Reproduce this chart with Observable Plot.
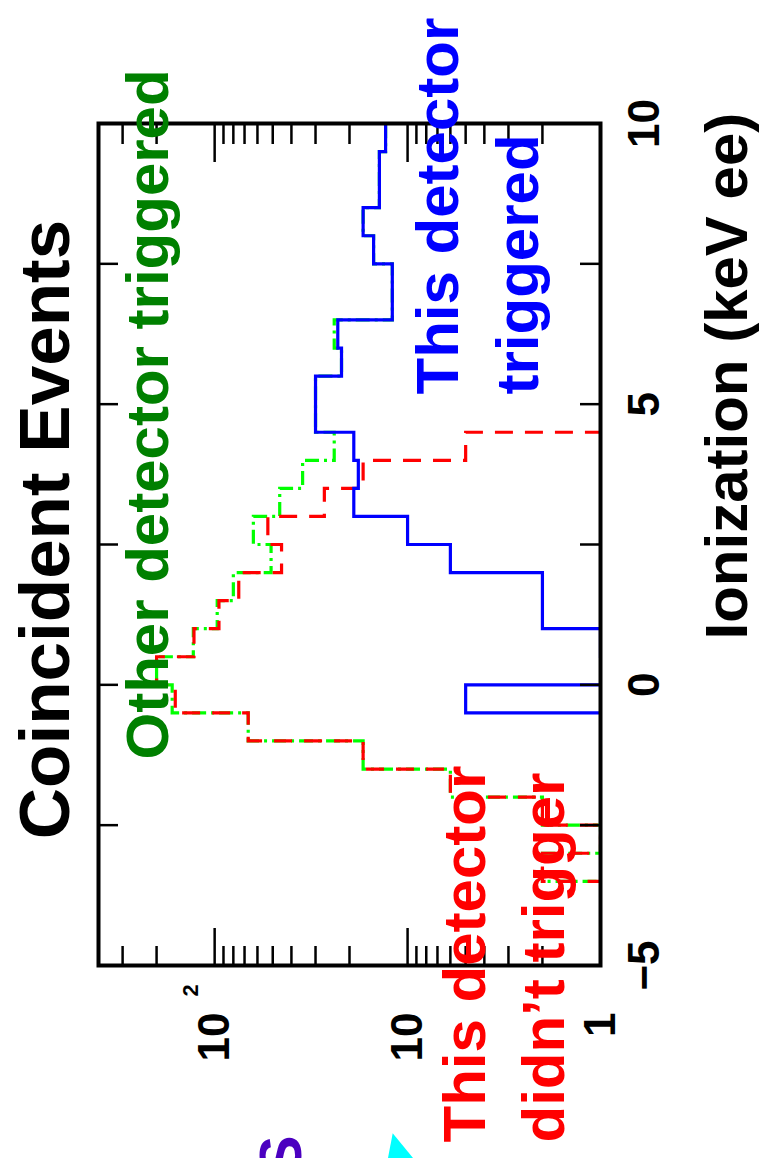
<!DOCTYPE html>
<html>
<head>
<meta charset="utf-8">
<script src="https://cdn.jsdelivr.net/npm/d3@7"></script>
<script src="https://cdn.jsdelivr.net/npm/@observablehq/plot@0.6"></script>
<style>
  html, body { margin: 0; padding: 0; background: #fff; overflow: hidden; width: 763px; height: 1158px; }
  #wrap { position: absolute; left: 0; top: 0; width: 1158px; height: 763px;
          transform-origin: 0 0; transform: translateY(1158px) rotate(-90deg); }
</style>
</head>
<body>
<div id="wrap"></div>
<script>
// ---- data (bins of 0.5 keVee, lower edges) ----
const binStart = [-5,-4.5,-4,-3.5,-3,-2.5,-2,-1.5,-1,-0.5,0,0.5,1,1.5,2,2.5,3,3.5,4,4.5,5,5.5,6,6.5,7,7.5,8,8.5,9,9.5];
const binWidth = 0.5;
const otherTriggered   = [0,0,0,2,1,2,6,17,67,166,200,129,97,80,51,63,46,35,24,30,30,22,24,12,12,15,17,14,14,13];
const thisNotTriggered = [0,0,0,2,1,2,6,17,67,160,200,128,95,75,45,53,27,17,5,0,0,0,0,0,0,0,0,0,0,0];
const thisTriggered    = [0,0,0,0,0,0,0,0,0,5,0,1,2,2,6,10,19,18,19,30,30,22,23,12,12,15,17,14,14,13];

const xTickValues = [-5, -2.5, 0, 2.5, 5, 7.5, 10];
const xTickLabels = [{value: -5, label: "\u22125"}, {value: 0, label: "0"}, {value: 5, label: "5"}, {value: 10, label: "10"}];
const yMajorTicks = [10, 100];
const yMinorTicks = [2,3,4,5,6,7,8,9,20,30,40,50,60,70,80,90,200,300];
const yTickLabels = [{value: 1, label: "1"}, {value: 10, label: "10"}, {value: 100, label: "10"}];
const yExponents  = [{value: 100, label: "2"}];

const titleText = "Coincident Events";
const xAxisTitle = "Ionization (keV ee)";
const labelOther = "Other detector triggered";
const labelTrig = "This detector\ntriggered";
const labelNoTrig = "This detector\ndidn\u2019t trigger";

// ---- build step points; empty bins fall below the log axis and are clipped ----
const FLOOR = 0.3;
function steps(vals) {
  const pts = vals.map((v, i) => ({x: binStart[i], y: v > 0 ? v : FLOOR}));
  pts.push({x: binStart[vals.length - 1] + binWidth, y: pts[pts.length - 1].y});
  return pts;
}

const W = 1158, H = 763;
const mL = 192, mR = 124, mT = 98, mB = 163;
const pw = W - mL - mR, ph = H - mT - mB;
const font = "'Liberation Sans', Arial, Helvetica, sans-serif";
const lineOpts = {x: "x", y: "y", curve: "step-after", strokeWidth: 3.2, strokeLinecap: "butt", strokeLinejoin: "miter", strokeMiterlimit: 4, clip: true};

const chart = Plot.plot({
  width: W, height: H,
  marginLeft: mL, marginRight: mR, marginTop: mT, marginBottom: mB,
  x: {domain: [-5, 10], axis: null},
  y: {type: "log", domain: [1, 400], axis: null},
  style: {fontFamily: font, fontWeight: "bold", background: "white", color: "black"},
  marks: [
    Plot.line(steps(otherTriggered), {...lineOpts, stroke: "#00ff00", strokeDasharray: "14,5,3,5"}),
    Plot.line(steps(thisNotTriggered), {...lineOpts, stroke: "#ff0000", strokeDasharray: "18,12"}),
    Plot.line(steps(thisTriggered), {...lineOpts, stroke: "#0000ff"}),
    // x ticks, inward on both edges
    Plot.ruleX(xTickValues, {x: d => d, insetTop: ph - 20, stroke: "black", strokeWidth: 2.5}),
    Plot.ruleX(xTickValues, {x: d => d, insetBottom: ph - 20, stroke: "black", strokeWidth: 2.5}),
    // y ticks (log), inward on both edges
    Plot.ruleY(yMajorTicks, {y: d => d, insetRight: pw - 38, stroke: "black", strokeWidth: 2.5}),
    Plot.ruleY(yMinorTicks, {y: d => d, insetRight: pw - 20, stroke: "black", strokeWidth: 2.5}),
    Plot.ruleY(yMajorTicks, {y: d => d, insetLeft: pw - 38, stroke: "black", strokeWidth: 2.5}),
    Plot.ruleY(yMinorTicks, {y: d => d, insetLeft: pw - 20, stroke: "black", strokeWidth: 2.5}),
    Plot.frame({stroke: "black", strokeWidth: 4}),
    // tick labels
    Plot.text(xTickLabels, {x: "value", text: "label", frameAnchor: "bottom", dy: 58, lineAnchor: "bottom", textAnchor: "middle", fontSize: 44}),
    Plot.text(yTickLabels, {y: "value", text: "label", frameAnchor: "left", dx: -47, textAnchor: "end", lineAnchor: "middle", fontSize: 44}),
    Plot.text(yExponents, {y: "value", text: "label", frameAnchor: "left", dx: -31, dy: -24, textAnchor: "start", lineAnchor: "middle", fontSize: 22}),
    // titles
    Plot.text([titleText], {frameAnchor: "top-left", dx: 436, dy: -30, textAnchor: "middle", lineAnchor: "bottom", fontSize: 71}),
    Plot.text([xAxisTitle], {frameAnchor: "top-left", dx: 326, dy: 648, textAnchor: "start", lineAnchor: "bottom", fontSize: 60}),
    // annotations
    Plot.text([labelOther], {frameAnchor: "top-left", dx: 206, dy: 69, textAnchor: "start", lineAnchor: "bottom", fontSize: 60, fill: "#008000"}),
    Plot.text([labelTrig], {frameAnchor: "top-left", dx: 571, dy: 439, textAnchor: "start", lineAnchor: "bottom", lineHeight: 1.333, fontSize: 60, fill: "#0000ff"}),
    Plot.text([labelNoTrig], {frameAnchor: "top-left", dx: -177, dy: 465, textAnchor: "start", lineAnchor: "bottom", lineHeight: 1.31, fontSize: 60, fill: "#ff0000"}),
    Plot.text(["S"], {frameAnchor: "top-left", dx: -170, dy: 202, textAnchor: "end", lineAnchor: "bottom", fontSize: 60, fill: "#4b00c0"})
  ]
});

// cropped cyan arrow head at the slide edge
d3.select(chart).append("polygon")
  .attr("points", "24.7,392.7 -20,384.2 -20,429.5")
  .attr("fill", "#00ffff");

document.getElementById("wrap").appendChild(chart);
</script>
</body>
</html>
